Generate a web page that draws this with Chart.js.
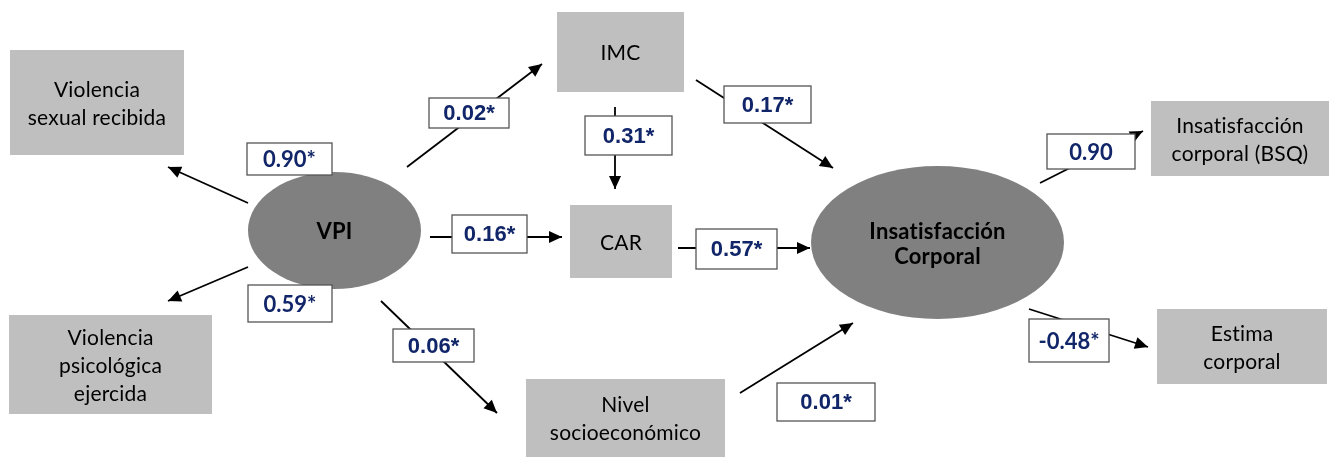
<!DOCTYPE html>
<html>
<head>
<meta charset="utf-8">
<script src="https://cdn.jsdelivr.net/npm/chart.js@4.4.1/dist/chart.umd.min.js"></script>
<style>
  html, body { margin: 0; padding: 0; background: #fff; }
  #wrap { width: 1330px; height: 459px; position: relative; }
</style>
</head>
<body>
<div id="wrap"><canvas id="pathChart"></canvas></div>
<script>
// nodes of the model (text lines)
const nodeLabels = [
  ['VPI'],
  ['Violencia', 'sexual recibida'],
  ['Violencia', 'psicológica', 'ejercida'],
  ['IMC'],
  ['CAR'],
  ['Nivel', 'socioeconómico'],
  ['Insatisfacción', 'Corporal'],
  ['Insatisfacción', 'corporal (BSQ)'],
  ['Estima', 'corporal']
];
const latentNodes = [0, 6];

// paths: from -> to, coefficient, significance
const pathFrom = [0, 0, 0, 0, 0, 3, 3, 4, 5, 6, 6];
const pathTo   = [1, 2, 3, 4, 5, 4, 6, 6, 6, 7, 8];
const pathCoef = [0.90, 0.59, 0.02, 0.16, 0.06, 0.31, 0.17, 0.57, 0.01, 0.90, -0.48];
const pathSig  = [true, true, true, true, true, true, true, true, true, false, true];

// layout (page units, y down)
const nodeBox = [
  [248, 172, 421, 289],
  [10, 50, 184, 155],
  [9, 315, 212, 414],
  [557, 12, 684, 92],
  [570, 205, 672, 278],
  [526, 379, 725, 457],
  [811, 166, 1064, 319],
  [1151, 101, 1329, 176],
  [1157, 309, 1327, 384]
];
const pathLine = [
  [248, 203, 168, 167],
  [248, 267, 168, 301],
  [407, 167, 542, 64],
  [430, 237, 562, 237],
  [381, 301, 497, 413],
  [615, 107, 615, 189],
  [696, 80, 833, 168],
  [678, 248, 810, 248],
  [740, 393, 853, 323],
  [1040, 183, 1143, 131],
  [1029, 309, 1148, 347]
];
const labelBox = [
  [247, 143, 332, 175],
  [248, 285, 332, 322],
  [429, 98, 509, 128],
  [452, 215, 527, 253],
  [393, 329, 474, 362],
  [585, 116, 672, 155],
  [724, 86, 811, 123],
  [696, 229, 777, 269],
  [777, 383, 875, 421],
  [1047, 134, 1135, 169],
  [1029, 319, 1109, 362]
];
const arialLabels = [2, 3, 4, 5, 6, 7, 8];

const fmt = (v, sig) => v.toFixed(2) + (sig ? '*' : '');

const datasets = pathLine.map((l, i) => ({
  label: nodeLabels[pathFrom[i]].join(' ') + ' → ' + nodeLabels[pathTo[i]].join(' '),
  data: [{ x: l[0], y: l[1] }, { x: l[2], y: l[3] }],
  showLine: true,
  borderColor: '#000',
  borderWidth: 1.8,
  pointRadius: 0
}));

const diagram = {
  id: 'diagram',
  beforeDatasetsDraw(chart) {
    const { ctx, scales: { x, y } } = chart;
    ctx.save();
    ctx.letterSpacing = '0.2px'; // no "ti" ligature
    nodeBox.forEach((b, i) => {
      const x0 = x.getPixelForValue(b[0]), y0 = y.getPixelForValue(b[1]);
      const x1 = x.getPixelForValue(b[2]), y1 = y.getPixelForValue(b[3]);
      const latent = latentNodes.includes(i);
      ctx.fillStyle = latent ? '#808080' : '#bfbfbf';
      ctx.beginPath();
      if (latent) ctx.ellipse((x0 + x1) / 2, (y0 + y1) / 2, (x1 - x0) / 2, (y1 - y0) / 2, 0, 0, Math.PI * 2);
      else ctx.rect(x0, y0, x1 - x0, y1 - y0);
      ctx.fill();
      const lines = nodeLabels[i];
      const lh = latent ? 25 : 28;
      ctx.fillStyle = '#000';
      ctx.font = latent ? 'bold 22px Lato' : '21px Lato';
      ctx.textAlign = 'center';
      ctx.textBaseline = 'middle';
      const cy = (y0 + y1) / 2 + 1.5 - (lines.length - 1) * lh / 2;
      lines.forEach((t, k) => ctx.fillText(t, (x0 + x1) / 2, cy + k * lh));
    });
    ctx.restore();
  },
  afterDatasetsDraw(chart) {
    const { ctx, scales: { x, y } } = chart;
    ctx.save();
    // arrow heads
    chart.data.datasets.forEach((ds, i) => {
      const pts = chart.getDatasetMeta(i).data;
      const a = pts[0], b = pts[1];
      const ang = Math.atan2(b.y - a.y, b.x - a.x);
      const len = 13, hw = 6;
      ctx.fillStyle = '#000';
      ctx.beginPath();
      ctx.moveTo(b.x, b.y);
      ctx.lineTo(b.x - len * Math.cos(ang) + hw * Math.sin(ang), b.y - len * Math.sin(ang) - hw * Math.cos(ang));
      ctx.lineTo(b.x - len * Math.cos(ang) - hw * Math.sin(ang), b.y - len * Math.sin(ang) + hw * Math.cos(ang));
      ctx.closePath();
      ctx.fill();
    });
    // coefficient labels
    labelBox.forEach((b, i) => {
      const x0 = x.getPixelForValue(b[0]), y0 = y.getPixelForValue(b[1]);
      const x1 = x.getPixelForValue(b[2]), y1 = y.getPixelForValue(b[3]);
      ctx.fillStyle = '#fff';
      ctx.fillRect(x0, y0, x1 - x0, y1 - y0);
      ctx.strokeStyle = '#555';
      ctx.lineWidth = 1.3;
      ctx.strokeRect(x0, y0, x1 - x0, y1 - y0);
      ctx.fillStyle = '#112569';
      ctx.font = arialLabels.includes(i) ? 'bold 22px "Liberation Sans"' : 'bold 22px Lato';
      ctx.textAlign = 'center';
      ctx.textBaseline = 'middle';
      ctx.fillText(fmt(pathCoef[i], pathSig[i]), (x0 + x1) / 2, (y0 + y1) / 2 + 1);
    });
    ctx.restore();
  }
};

new Chart(document.getElementById('pathChart'), {
  type: 'scatter',
  data: { datasets },
  options: {
    responsive: true,
    maintainAspectRatio: false,
    animation: false,
    layout: { padding: 0 },
    plugins: { legend: { display: false }, tooltip: { enabled: false } },
    scales: {
      x: { type: 'linear', min: 0, max: 1330, display: false },
      y: { type: 'linear', min: 0, max: 459, reverse: true, display: false }
    }
  },
  plugins: [diagram]
});
</script>
</body>
</html>
